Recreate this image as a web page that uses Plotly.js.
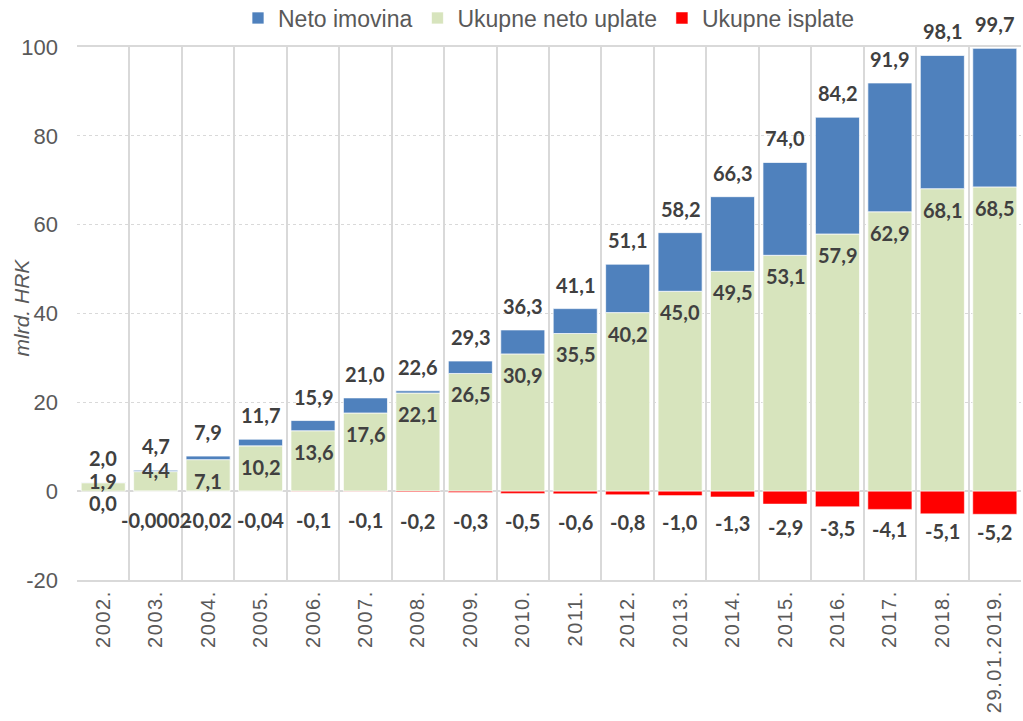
<!DOCTYPE html>
<html>
<head>
<meta charset="utf-8">
<script src="https://cdn.plot.ly/plotly-3.0.1.min.js"></script>
<style>
  html, body { margin: 0; padding: 0; background: #fff; }
  #chart { width: 1023px; height: 721px; }
  .xtick text { letter-spacing: 1.6px; }
</style>
</head>
<body>
<div id="chart"></div>
<script>
const years = ["2002.", "2003.", "2004.", "2005.", "2006.", "2007.", "2008.", "2009.", "2010.",
  "2011.", "2012.", "2013.", "2014.", "2015.", "2016.", "2017.", "2018.", "29.01.2019."];
const netoImovina = [2.0, 4.7, 7.9, 11.7, 15.9, 21.0, 22.6, 29.3, 36.3, 41.1, 51.1, 58.2, 66.3, 74.0, 84.2, 91.9, 98.1, 99.7];
const netoUplate = [1.9, 4.4, 7.1, 10.2, 13.6, 17.6, 22.1, 26.5, 30.9, 35.5, 40.2, 45.0, 49.5, 53.1, 57.9, 62.9, 68.1, 68.5];
const isplate = [0.0, -0.0002, -0.02, -0.04, -0.1, -0.1, -0.2, -0.3, -0.5, -0.6, -0.8, -1.0, -1.3, -2.9, -3.5, -4.1, -5.1, -5.2];
const isplateLabels = ["0,0", "-0,0002", "-0,02", "-0,04", "-0,1", "-0,1", "-0,2", "-0,3", "-0,5", "-0,6", "-0,8", "-1,0", "-1,3", "-2,9", "-3,5", "-4,1", "-5,1", "-5,2"];
const yTicks = [-20, 0, 20, 40, 60, 80, 100];

const fmt = (v) => v.toFixed(1).replace(".", ",");
const edge = { color: "rgba(255,255,255,0.7)", width: 1 };

// blue part only covers what is above the green part
const blueDiff = netoImovina.map((v, i) => +(v - netoUplate[i]).toFixed(2));

const traces = [
  { type: "bar", name: "Ukupne neto uplate", x: years, y: netoUplate, legendrank: 2,
    marker: { color: "#D7E4BD", line: edge }, hoverinfo: "skip" },
  { type: "bar", name: "Neto imovina", x: years, y: blueDiff, legendrank: 1,
    marker: { color: "#4F81BD", line: edge }, hoverinfo: "skip" },
  { type: "bar", name: "Ukupne isplate", x: years, y: isplate, legendrank: 3,
    marker: { color: "#FF0000", line: { color: "rgba(255,255,255,0.5)", width: 1 } }, hoverinfo: "skip" },
];

const sans = "'Liberation Sans', Arial, sans-serif";
const labelFont = { family: "Lato, 'DejaVu Sans', sans-serif", size: 20, color: "#404040" };
const annotations = [];
// x as index: "2003." would otherwise be read as a category number
years.forEach((yr, i) => {
  annotations.push({ x: i, y: netoImovina[i], text: "<b>" + fmt(netoImovina[i]) + "</b>",
    showarrow: false, yanchor: "middle", yshift: 24, font: labelFont });
  const gShift = netoUplate[i] < 5 ? 2 : -21;
  annotations.push({ x: i, y: netoUplate[i], text: "<b>" + fmt(netoUplate[i]) + "</b>",
    showarrow: false, yanchor: "middle", yshift: gShift, font: labelFont });
  const neg = isplate[i] < 0;
  annotations.push({ x: i, y: isplate[i] / 2, text: "<b>" + isplateLabels[i] + "</b>",
    showarrow: false, yanchor: "middle", yshift: neg ? -29 : -12, font: labelFont });
});

// axis title as an annotation so it can sit close to the tick labels
annotations.push({ xref: "paper", yref: "paper", x: 0, y: 0.5, xshift: -56, yshift: 6,
  xanchor: "center", yanchor: "middle", textangle: -90, showarrow: false,
  text: "<i>mlrd. HRK</i>", font: { family: sans, size: 21, color: "#595959" } });

const layout = {
  width: 1023, height: 721,
  margin: { l: 77, r: 2, t: 47, b: 141, autoexpand: false },
  paper_bgcolor: "#fff", plot_bgcolor: "#fff",
  barmode: "relative",
  bargap: 0.16,
  showlegend: true,
  legend: { orientation: "h", x: 0.5, xanchor: "center", xref: "paper",
    y: 0.975, yanchor: "middle", yref: "container",
    font: { family: sans, size: 23, color: "#595959" },
    itemclick: false },
  xaxis: {
    type: "category",
    tickangle: -90,
    tickfont: { family: sans, size: 20, color: "#595959" },
    tickson: "boundaries",
    ticks: "",
    showgrid: true, gridcolor: "#d9d9d9", gridwidth: 2,
    showline: true, mirror: true, linecolor: "#d9d9d9", linewidth: 2,
    fixedrange: true,
  },
  yaxis: {
    range: [-20, 100],
    tickvals: yTicks,
    ticktext: yTicks.map(String),
    tickfont: { family: sans, size: 22, color: "#595959" },
    ticklabelstandoff: 18,
    showgrid: true, gridcolor: "#d9d9d9", gridwidth: 1, griddash: "dot",
    zeroline: true, zerolinecolor: "#d9d9d9", zerolinewidth: 2,
    showline: false,
    fixedrange: true,
  },
  annotations: annotations,
};

Plotly.newPlot("chart", traces, layout, { displayModeBar: false, staticPlot: true });
</script>
</body>
</html>
